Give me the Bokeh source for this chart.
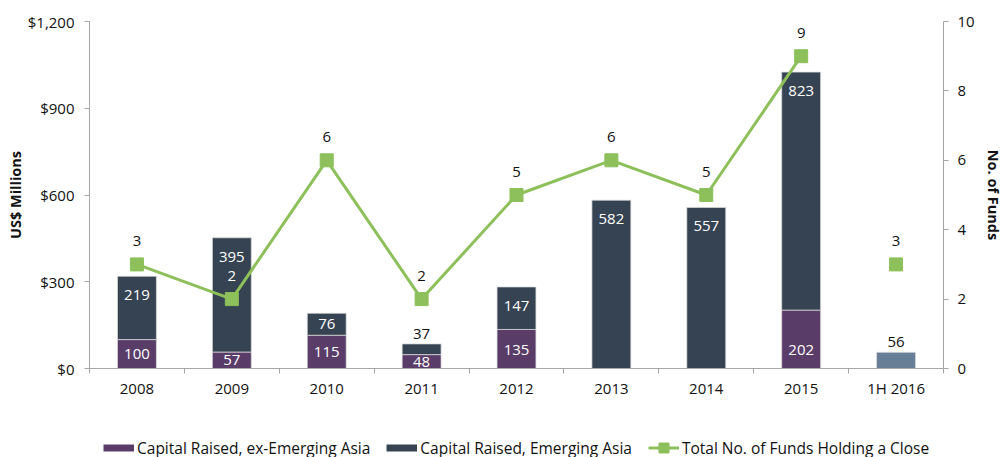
from bokeh.plotting import figure
from bokeh.layouts import column
from bokeh.models import (Range1d, LinearAxis, FixedTicker, NumeralTickFormatter,
                          Legend, LegendItem, ColumnDataSource)
from bokeh.core.properties import value
from bokeh.embed import file_html
from bokeh.resources import INLINE

# ---------------- data ----------------
periods = ["2008", "2009", "2010", "2011", "2012", "2013", "2014", "2015", "1H 2016"]
ex_emerging_asia = [100, 57, 115, 48, 135, 0, 0, 202, 0]
emerging_asia = [219, 395, 76, 37, 147, 582, 557, 823, 56]
num_funds = [3, 2, 6, 2, 5, 6, 5, 9, 3]
usd_ticks = [0, 300, 600, 900, 1200]
fund_ticks = [0, 2, 4, 6, 8, 10]
legend_labels = ["Capital Raised, ex-Emerging Asia", "Capital Raised, Emerging Asia",
                 "Total No. of Funds Holding a Close"]

# ---------------- style ----------------
PURPLE = "#5a3c69"
DARK = "#364352"
SLATE = "#677e96"
GREEN = "#8dc05a"
AXIS_GRAY = "#a6a6a6"
FONT = "Open Sans"
FS = "15px"

W = 1005
TOP = 21
FRAME_H = 347
BOTTOM = 34
H_MAIN = TOP + FRAME_H + BOTTOM
H_LEG = 457 - H_MAIN
Y_MAX = usd_ticks[-1]
PX_PER_UNIT = FRAME_H / Y_MAX

n = len(periods)
xs = [i + 0.5 for i in range(n)]
totals = [a + b for a, b in zip(ex_emerging_asia, emerging_asia)]
ea_colors = [SLATE if per.startswith("1H") else DARK for per in periods]

p = figure(width=W, height=H_MAIN, output_backend="svg", toolbar_location=None,
           x_range=Range1d(0, n), y_range=Range1d(0, Y_MAX),
           min_border_left=89, min_border_right=57, min_border_top=TOP,
           min_border_bottom=BOTTOM,
           x_axis_location=None, y_axis_location=None)
p.outline_line_color = None
p.xgrid.visible = False
p.ygrid.visible = False
p.background_fill_color = "white"
p.border_fill_color = "white"

p.extra_y_ranges = {"funds": Range1d(0, fund_ticks[-1])}

# ---------------- axes ----------------
def style_axis(ax):
    ax.axis_line_color = AXIS_GRAY
    ax.major_tick_line_color = AXIS_GRAY
    ax.minor_tick_line_color = AXIS_GRAY
    ax.major_label_text_font = FONT
    ax.major_label_text_font_size = FS
    ax.major_label_text_color = "#111111"
    ax.axis_label_text_font = FONT
    ax.axis_label_text_font_size = "14.5px"
    ax.axis_label_text_font_style = "bold"
    ax.axis_label_text_color = "#111111"
    ax.major_tick_in = 0
    ax.minor_tick_in = 0
    ax.minor_tick_out = 0
    ax.major_tick_out = 5

xaxis = LinearAxis(ticker=FixedTicker(ticks=xs, minor_ticks=list(range(n + 1))))
style_axis(xaxis)
xaxis.major_tick_out = 0
xaxis.minor_tick_out = 5
xaxis.major_label_standoff = 4
xaxis.major_label_overrides = {x: per for x, per in zip(xs, periods)}
p.add_layout(xaxis, "below")

yaxis = LinearAxis(ticker=FixedTicker(ticks=usd_ticks),
                   formatter=NumeralTickFormatter(format="$0,0"),
                   axis_label="US$ Millions")
style_axis(yaxis)
yaxis.major_label_standoff = 10
yaxis.axis_label_standoff = 0
p.add_layout(yaxis, "left")

raxis = LinearAxis(y_range_name="funds", ticker=FixedTicker(ticks=fund_ticks),
                   axis_label="No. of Funds")
style_axis(raxis)
raxis.major_label_standoff = 9
raxis.axis_label_standoff = 6
p.add_layout(raxis, "right")

# ---------------- bars ----------------
src = ColumnDataSource(dict(x=xs, ex=ex_emerging_asia, ea=emerging_asia,
                            total=totals, ea_color=ea_colors))
BAR_W = 0.41
BAR_LINE = dict(line_color="#d9d9d9", line_width=0.75)
p.vbar(x="x", bottom=0, top="ex", width=BAR_W, source=src, fill_color=PURPLE, **BAR_LINE)
p.vbar(x="x", bottom="ex", top="total", width=BAR_W, source=src,
       fill_color="ea_color", **BAR_LINE)

# bar labels
INSIDE_PAD = 19 / PX_PER_UNIT  # data units
lx, ly, lt, lc, lo = [], [], [], [], []
for x, a, b, t in zip(xs, ex_emerging_asia, emerging_asia, totals):
    if a > 0:
        lx.append(x); ly.append(min(a / 2, INSIDE_PAD)); lt.append(str(a))
        lc.append("white"); lo.append(0)
    if b > 0:
        if b * PX_PER_UNIT >= 17:
            lx.append(x); ly.append(max(a + b / 2, t - INSIDE_PAD)); lt.append(str(b))
            lc.append("white"); lo.append(0)
        else:
            lx.append(x); ly.append(t); lt.append(str(b))
            lc.append("#111111"); lo.append(-10)
p.text(x=lx, y=ly, text=lt, text_color=lc, y_offset=lo,
       text_align="center", text_baseline="middle",
       text_font=value(FONT), text_font_size=FS)

# ---------------- line ----------------
full_years = [not per.startswith("1H") for per in periods]
line_x = [x for x, f in zip(xs, full_years) if f]
line_y = [v for v, f in zip(num_funds, full_years) if f]
p.line(line_x, line_y, y_range_name="funds", line_color=GREEN, line_width=3)
p.scatter(xs, num_funds, y_range_name="funds", marker="square", size=13,
          fill_color=GREEN, line_color=GREEN)

# line labels (the one sitting on top of a dark bar is white)
fund_label_colors = []
for v, t in zip(num_funds, totals):
    v_px = v / fund_ticks[-1] * FRAME_H
    fund_label_colors.append("white" if (v_px + 23) < t * PX_PER_UNIT else "#111111")
p.text(x=xs, y=num_funds, text=[str(v) for v in num_funds], y_range_name="funds",
       y_offset=-23, text_color=fund_label_colors,
       text_align="center", text_baseline="middle",
       text_font=value(FONT), text_font_size=FS)

# ---------------- legend strip (frame aligned with the main plot) ----------------
q = figure(width=W, height=H_LEG, output_backend="svg", toolbar_location=None,
           x_range=Range1d(0, 1), y_range=Range1d(0, 1),
           min_border_left=0, min_border_right=0, min_border_top=0, min_border_bottom=0,
           x_axis_location=None, y_axis_location=None)
q.outline_line_color = None
q.xgrid.visible = False
q.ygrid.visible = False
q.border_fill_color = "white"

NAN = [float("nan")]
# swatches drawn as thick butt-capped strokes (31 x 7 px)
k_ex = q.line(x=NAN, y=NAN, line_color=PURPLE, line_width=7, line_cap="butt")
k_ea = q.line(x=NAN, y=NAN, line_color=DARK, line_width=7, line_cap="butt")
k_ln = q.line(x=NAN, y=NAN, line_color=GREEN, line_width=3)
k_pt = q.scatter(x=NAN, y=NAN, marker="square", size=10, fill_color=GREEN, line_color=GREEN)

legend = Legend(items=[
    LegendItem(label=legend_labels[0], renderers=[k_ex]),
    LegendItem(label=legend_labels[1], renderers=[k_ea]),
    LegendItem(label=legend_labels[2], renderers=[k_ln, k_pt]),
], orientation="horizontal", location=(14, -3),
    glyph_width=31, glyph_height=25, label_height=16, label_standoff=3, spacing=16,
    padding=0, margin=0, border_line_color=None, background_fill_alpha=0,
    label_text_font=FONT, label_text_font_size="15.5px", label_text_color="#111111")
q.add_layout(legend, "center")

layout = column(p, q, spacing=0)
open("out.html", "w").write(file_html(layout, INLINE))
